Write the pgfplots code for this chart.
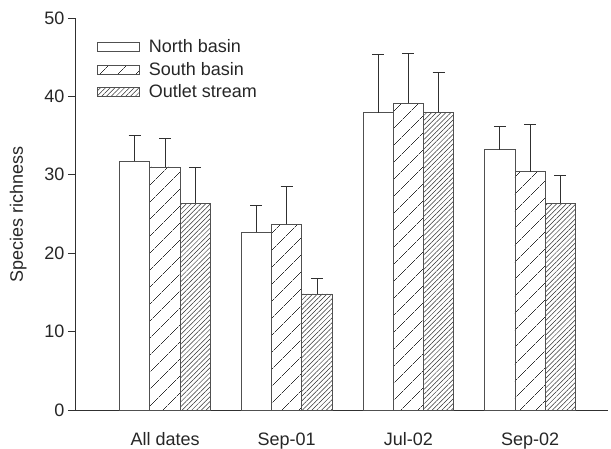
\documentclass[border=0pt]{standalone}
\usepackage{fontspec}
\setmainfont{Liberation Sans}
\usepackage{pgfplots}
\pgfplotsset{compat=1.18}
\usetikzlibrary{patterns.meta}

\definecolor{edge}{HTML}{505050}
\definecolor{ink}{HTML}{303030}

\begin{document}
\begin{tikzpicture}
\useasboundingbox (-75pt,-38pt) rectangle (536pt,410pt);
\begin{axis}[
  scale only axis, width=533pt, height=392pt,
  xmin=-0.74, xmax=3.64, ymin=0, ymax=50,
  axis x line*=bottom, axis y line*=left,
  axis line style={ink, line width=0.9pt, -},
  ytick={0,10,...,50}, tick align=outside, major tick length=7pt,
  ytick style={ink, line width=0.9pt},
  xtick={0,1,2,3}, xticklabels={All dates,Sep-01,Jul-02,Sep-02},
  xtick style={draw=none},
  xticklabel style={yshift=-12pt},
  font=\fontsize{18}{21}\selectfont,
  tick label style={font=\fontsize{18}{21}\selectfont, text=black!85},
  /pgf/number format/assume math mode=true,
  ylabel={Species richness}, ylabel shift=11pt,
  ylabel style={font=\fontsize{18}{21}\selectfont, text=black!85},
  ybar, bar width=0.249,
  legend style={at={(0.035,0.955)}, anchor=north west, draw=none, fill=none,
    font=\fontsize{18}{21}\selectfont, text=black!85, row sep=4pt,
    /tikz/every odd column/.style={column sep=7pt}},
  legend cell align=left,
  legend image code/.code={\draw[#1] (0pt,-4.5pt) rectangle (42pt,4.5pt);},
  error bars/y dir=plus, error bars/y explicit,
  error bars/error bar style={ink, line width=1pt},
  error bars/error mark=-,
  error bars/error mark options={ink, line width=1pt, mark size=6pt, rotate=90},
]
% North basin
\addplot[draw=edge, line width=0.9pt, fill=white, bar shift=-0.249]
  coordinates {(0,31.7) +- (0,3.3) (1,22.7) +- (0,3.4) (2,37.9) +- (0,7.4) (3,33.2) +- (0,2.9)};
% South basin
\addplot[draw=edge, line width=0.9pt, bar shift=0,
  pattern={Lines[angle=45, distance=13pt, line width=0.6pt]}, pattern color=ink]
  coordinates {(0,31.0) +- (0,3.6) (1,23.7) +- (0,4.8) (2,39.1) +- (0,6.4) (3,30.4) +- (0,6.0)};
% Outlet stream
\addplot[draw=edge, line width=0.9pt, bar shift=0.249,
  pattern={Lines[angle=45, distance=3.4pt, line width=0.5pt]}, pattern color=ink]
  coordinates {(0,26.4) +- (0,4.5) (1,14.8) +- (0,2.0) (2,38.0) +- (0,5.1) (3,26.4) +- (0,3.5)};
\legend{North basin, South basin, Outlet stream}
\end{axis}
\end{tikzpicture}
\end{document}
